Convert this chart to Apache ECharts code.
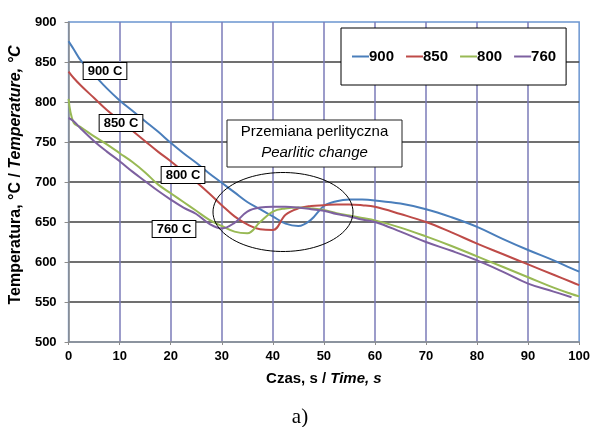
<!DOCTYPE html>
<html>
<head>
<meta charset="utf-8">
<script src="https://cdn.jsdelivr.net/npm/echarts@6/dist/echarts.min.js"></script>
<style>
  html, body { margin: 0; background: #fff; }
  #chart { width: 593px; height: 427px; }
</style>
</head>
<body>
<div id="chart"></div>
<script>
// time, s (shared by all four cooling curves)
const time = [0, 1, 2.5, 5, 7.5, 10, 12.5, 15, 17.5, 20, 22.5, 25, 27.5, 30, 32.5, 35, 37.5, 40,
  42.5, 45, 47.5, 50, 52.5, 55, 57.5, 60, 65, 70, 75, 80, 85, 90, 95, 98.5, 100]

const t900 = [876, 866, 851, 834, 817, 802, 789, 776, 763, 749, 736, 724, 711, 699, 687, 675, 666, 657,
  648, 645, 653, 670, 676, 678, 678, 677, 673, 666, 656, 644, 629, 615, 602, 592, 588]
const t850 = [838, 830, 820, 805, 790, 777, 764, 751, 738, 726, 713, 700, 686, 671, 657, 647, 641, 640,
  659, 667, 670, 671, 672, 672, 671, 669, 660, 650, 637, 623, 610, 597, 584, 575, 571]
const t800 = [804, 774, 768, 757, 747, 736, 725, 712, 697, 686, 675, 664, 653, 645, 638, 636, 650, 663,
  667, 668, 667, 665, 661, 658, 655, 652, 643, 632, 620, 607, 594, 581, 568, 560, 557]
const t760 = [780, 776, 766, 751, 738, 726, 713, 701, 689, 678, 668, 660, 648, 642, 649, 663, 668, 669,
  669, 668, 666, 664, 660, 657, 653, 650, 638, 625, 614, 602, 588, 573, 563, 556, null]

const seriesNames = ['900', '850', '800', '760']
const seriesValues = [t900, t850, t800, t760]
const colors = ['#4a7ebb', '#be4b48', '#98b954', '#7d60a0']

const FONT = '"Liberation Sans", Arial, sans-serif'

const chart = echarts.init(document.getElementById('chart'), null, { renderer: 'canvas' })

// ellipse around the pearlitic change region (annotation only)
const ellipsePts = []
for (let i = 0; i < 90; i++) {
  const a = (i / 90) * Math.PI * 2
  ellipsePts.push([283 + 70 * Math.cos(a), 212 + 39.5 * Math.sin(a)])
}

function tempLabel(txt, cx, cy) {
  return {
    type: 'text',
    x: cx, y: cy, z: 50,
    style: {
      text: txt,
      font: 'bold 13px ' + FONT,
      fill: '#000',
      align: 'center', verticalAlign: 'middle',
      backgroundColor: '#fff',
      borderColor: '#000', borderWidth: 1,
      padding: [2, 4, 1, 4],
    },
  }
}

chart.setOption({
  backgroundColor: '#fff',
  animation: false,
  textStyle: { fontFamily: FONT },
  grid: {
    left: 67, right: 10, top: 22, bottom: 85,
    show: true, borderColor: '#6b95d0', borderWidth: 1.5, backgroundColor: 'transparent',
  },
  legend: {
    data: seriesNames,
    left: 341, top: 28,
    orient: 'horizontal',
    icon: 'rect',
    itemWidth: 17, itemHeight: 2,
    itemGap: 12,
    padding: [21, 10, 21, 11],
    backgroundColor: '#fff',
    borderColor: '#000', borderWidth: 1,
    textStyle: { fontFamily: FONT, fontWeight: 'bold', fontSize: 15, color: '#000', padding: [0, 0, 0, -5] },
    z: 20,
  },
  xAxis: {
    type: 'value',
    min: 0, max: 100, interval: 10,
    name: '{a|Czas, s / }{b|Time, s}',
    nameLocation: 'middle',
    nameGap: 29,
    nameTextStyle: {
      rich: {
        a: { fontFamily: FONT, fontWeight: 'bold', fontSize: 15, color: '#000' },
        b: { fontFamily: FONT, fontWeight: 'bold', fontStyle: 'italic', fontSize: 15, color: '#000' },
      },
    },
    axisLine: { show: true, lineStyle: { color: '#8c8c8c', width: 1.5 } },
    axisTick: { show: true, length: 3, lineStyle: { color: '#8c8c8c' } },
    axisLabel: { color: '#000', fontWeight: 'bold', fontSize: 13, margin: 8 },
    splitLine: { show: true, showMinLine: false, showMaxLine: false, lineStyle: { color: '#7b7bb8', width: 1.5 } },
  },
  yAxis: {
    type: 'value',
    min: 500, max: 900, interval: 50,
    name: '{a|Temperatura, °C / }{b|Temperature, °C}',
    nameLocation: 'middle',
    nameGap: 37,
    nameTextStyle: {
      padding: [0, 0, 0, 14],
      rich: {
        a: { fontFamily: FONT, fontWeight: 'bold', fontSize: 16, color: '#000' },
        b: { fontFamily: FONT, fontWeight: 'bold', fontStyle: 'italic', fontSize: 16, color: '#000' },
      },
    },
    axisLine: { show: true, lineStyle: { color: '#8c8c8c', width: 1.5 } },
    axisTick: { show: true, length: 4, lineStyle: { color: '#8c8c8c' } },
    axisLabel: { color: '#000', fontWeight: 'bold', fontSize: 13, margin: 12 },
    splitLine: { show: true, showMinLine: false, showMaxLine: false, lineStyle: { color: '#404040', width: 1.5 } },
  },
  series: seriesNames.map((name, k) => ({
    name,
    type: 'line',
    data: time.map((t, i) => [t, seriesValues[k][i]]),
    showSymbol: false,
    smooth: 0.4,
    lineStyle: { color: colors[k], width: 2 },
    itemStyle: { color: colors[k] },
    z: 3,
  })),
  graphic: [
    tempLabel('900 C', 105, 71),
    tempLabel('850 C', 121, 123),
    tempLabel('800 C', 183, 175),
    tempLabel('760 C', 174, 229),
    {
      type: 'polygon', z: 40,
      shape: { points: ellipsePts },
      style: { fill: 'none', stroke: '#000', lineWidth: 1 },
    },
    {
      type: 'rect', z: 45,
      shape: { x: 227, y: 120, width: 175, height: 47 },
      style: { fill: '#fff', stroke: '#222', lineWidth: 1 },
    },
    {
      type: 'text', z: 46, x: 314.5, y: 132,
      style: { text: 'Przemiana perlityczna', font: '15px ' + FONT, fill: '#000', align: 'center', verticalAlign: 'middle' },
    },
    {
      type: 'text', z: 46, x: 314.5, y: 153,
      style: { text: 'Pearlitic change', font: 'italic 15px ' + FONT, fill: '#000', align: 'center', verticalAlign: 'middle' },
    },
    {
      type: 'text', z: 46, x: 300, y: 417,
      style: { text: 'a)', font: '21px "Liberation Serif", "Times New Roman", serif', fill: '#000', align: 'center', verticalAlign: 'middle' },
    },
  ],
})
</script>
</body>
</html>
